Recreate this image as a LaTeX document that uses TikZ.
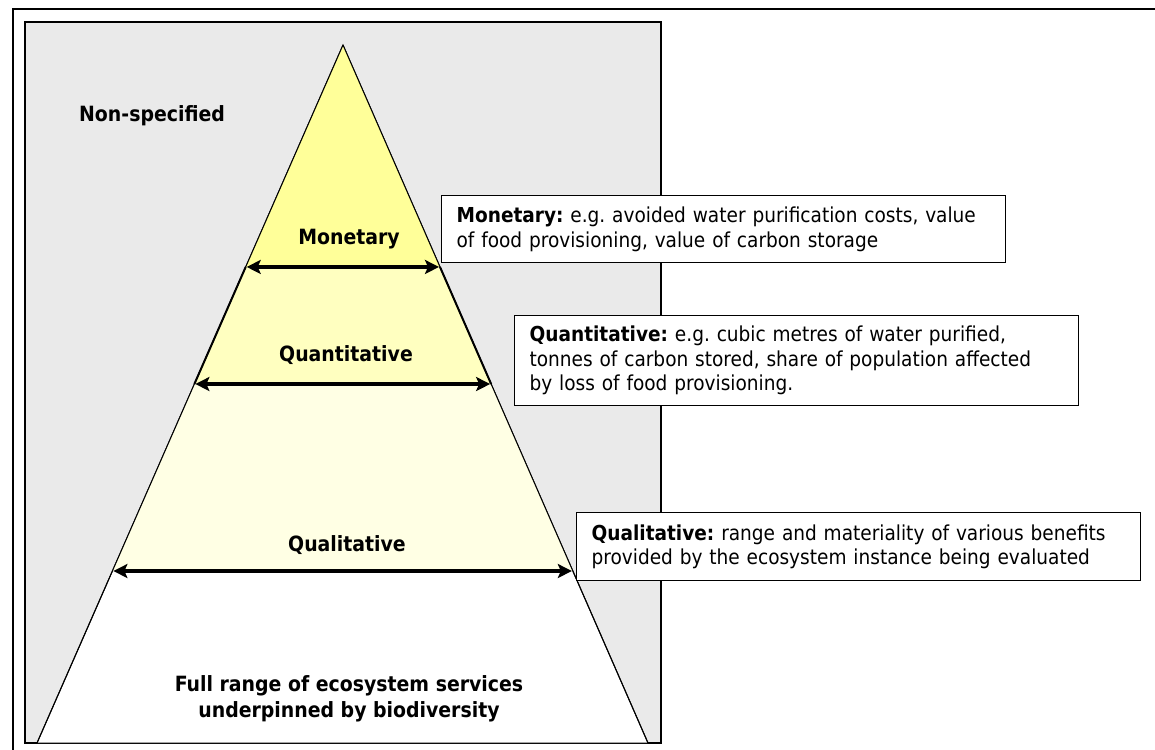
\documentclass[tikz,border=0pt]{standalone}
\usepackage{fontspec}
\setmainfont{DejaVu Sans Condensed}
\frenchspacing
\usetikzlibrary{arrows.meta,calc}
\definecolor{panelgray}{RGB}{234,234,234}
\definecolor{ytop}{RGB}{255,255,153}
\definecolor{ymid}{RGB}{255,255,192}
\definecolor{ylow}{RGB}{255,255,228}
\tikzset{
  lbl/.style={font=\fontsize{21}{25.5}\selectfont\bfseries, align=center, inner sep=0pt},
  infobox/.style={draw, line width=1.2pt, fill=white, anchor=north west, align=left,
    text width=534pt, inner xsep=15pt, inner ysep=8pt,
    font=\fontsize{20.6}{24.5}\selectfont},
  levelarrow/.style={line width=3.5pt, {Stealth[length=14pt,width=14pt,inset=3pt]}-{Stealth[length=14pt,width=14pt,inset=3pt]}, shorten <=1pt, shorten >=1pt}
}
\begin{document}
\begin{tikzpicture}[x=1pt,y=-1pt]
\useasboundingbox (0,0) rectangle (1155,749);
\fill[white] (0,0) rectangle (1155,749);
% outer frame (only top and left visible)
\draw[line width=1.5pt] (13,752) -- (13,9) -- (1158,9);
% grey panel
\draw[line width=1.2pt, fill=panelgray] (25,22) rectangle (661,743);
% pyramid geometry
\coordinate (A) at (343,45);
\coordinate (BL) at (37,743);
\coordinate (BR) at (648,743);
\coordinate (m1) at ($(A)!0.318!(BL)$);
\coordinate (m2) at ($(A)!0.318!(BR)$);
\coordinate (q1) at ($(A)!0.4857!(BL)$);
\coordinate (q2) at ($(A)!0.4857!(BR)$);
\coordinate (l1) at ($(A)!0.7536!(BL)$);
\coordinate (l2) at ($(A)!0.7536!(BR)$);
% whole pyramid (white)
\draw[line width=1pt, fill=white] (A) -- (BL) -- (BR) -- cycle;
% bands
\fill[ylow] (q1) -- (l1) -- (l2) -- (q2) -- cycle;
\fill[ymid] (m1) -- (q1) -- (q2) -- (m2) -- cycle;
\fill[ytop] (A) -- (m1) -- (m2) -- cycle;
\draw[line width=1pt] (A) -- (BL) (A) -- (BR);
\draw[line width=2pt] (m1) -- (q1) (m2) -- (q2);
% level arrows
\draw[levelarrow] (m1) -- (m2);
\draw[levelarrow] (q1) -- (q2);
\draw[levelarrow] (l1) -- (l2);
% labels
\node[lbl] (nonspec) at (152,116) {Non-specified};
\node[lbl] (monlbl) at (349,239) {Monetary};
\node[lbl] (quantlbl) at (346,355) {Quantitative};
\node[lbl] (quallbl) at (347,545) {Qualitative};
\node[lbl] (fullrange) at (349,699) {Full range of ecosystem services\\underpinned by biodiversity};
% info boxes
\node[infobox, minimum height=67pt] (monbox) at (441,195)
  {\textbf{Monetary:} e.g. avoided water purification costs, value\\of food provisioning, value of carbon storage};
\node[infobox, minimum height=90pt] (quantbox) at (514,315)
  {\textbf{Quantitative:} e.g. cubic metres of water purified,\\tonnes of carbon stored, share of population affected\\by loss of food provisioning.};
\node[infobox, minimum height=68pt] (qualbox) at (576,512)
  {\textbf{Qualitative:} range and materiality of various benefits\\provided by the ecosystem instance being evaluated};
\end{tikzpicture}
\end{document}
